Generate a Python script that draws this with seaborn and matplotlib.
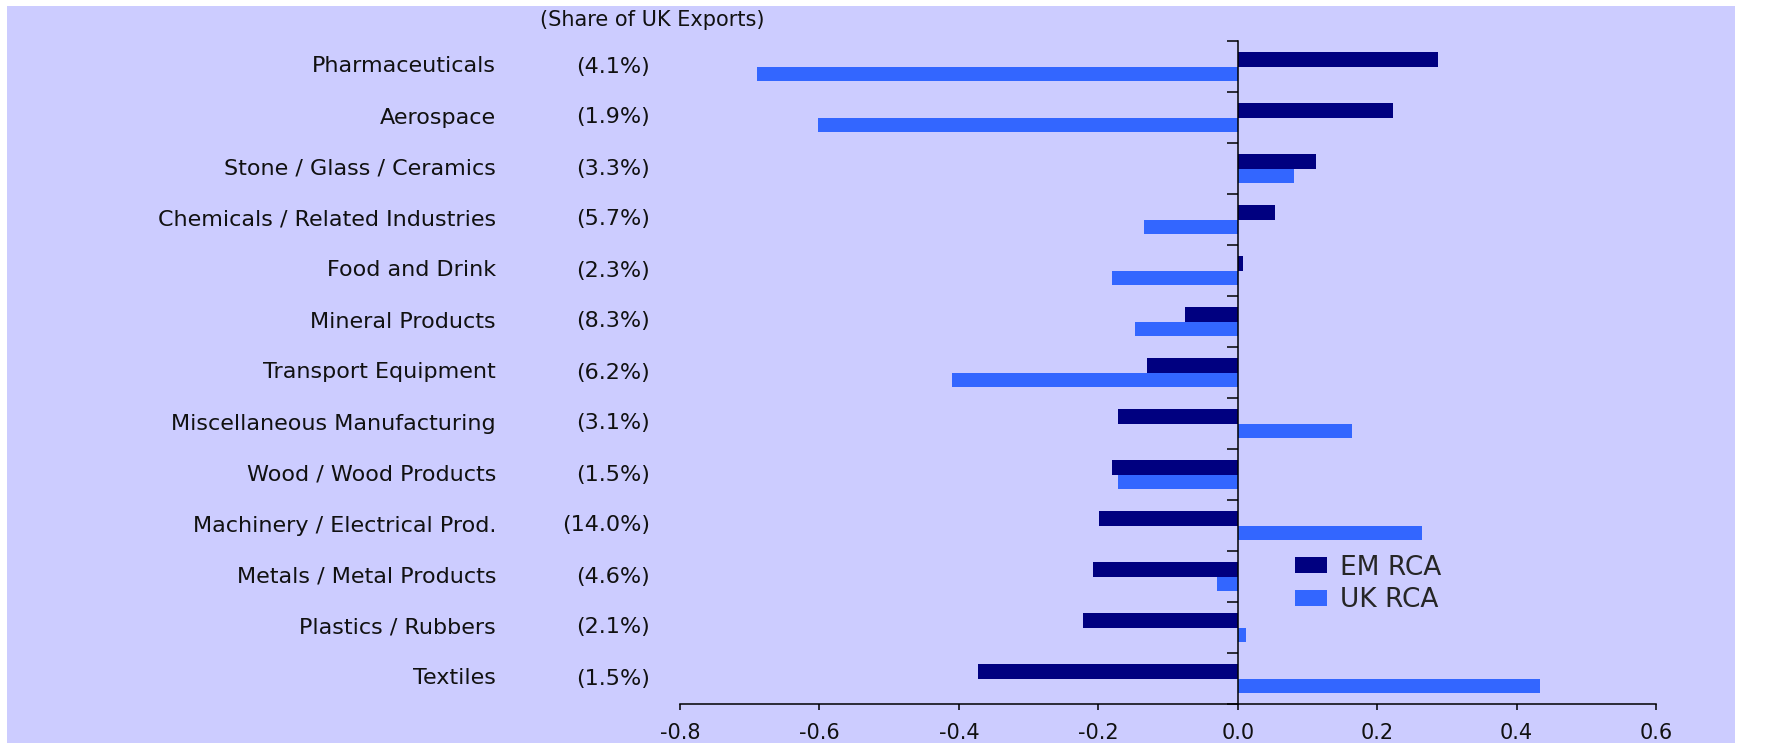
import matplotlib
matplotlib.use("Agg")
import matplotlib.pyplot as plt
import numpy as np
import pandas as pd
import seaborn as sns
from matplotlib import transforms
from matplotlib.patches import Rectangle

# Revealed comparative advantage by sector, with each sector's share of UK exports
categories = [
    "Pharmaceuticals",
    "Aerospace",
    "Stone / Glass / Ceramics",
    "Chemicals / Related Industries",
    "Food and Drink",
    "Mineral Products",
    "Transport Equipment",
    "Miscellaneous Manufacturing",
    "Wood / Wood Products",
    "Machinery / Electrical Prod.",
    "Metals / Metal Products",
    "Plastics / Rubbers",
    "Textiles",
]
shares = ["(4.1%)", "(1.9%)", "(3.3%)", "(5.7%)", "(2.3%)", "(8.3%)", "(6.2%)",
          "(3.1%)", "(1.5%)", "(14.0%)", "(4.6%)", "(2.1%)", "(1.5%)"]
em_rca = [0.287, 0.223, 0.112, 0.053, 0.007, -0.075, -0.130,
          -0.172, -0.180, -0.199, -0.208, -0.222, -0.373]
uk_rca = [-0.689, -0.602, 0.081, -0.135, -0.180, -0.148, -0.410,
          0.164, -0.172, 0.265, -0.030, 0.012, 0.434]
series_names = ["EM RCA", "UK RCA"]
x_ticks = [-0.8, -0.6, -0.4, -0.2, 0.0, 0.2, 0.4, 0.6]
x_tick_labels = ["-0.8", "-0.6", "-0.4", "-0.2", "0.0", "0.2", "0.4", "0.6"]
column_title = "(Share of UK Exports)"

NAVY = "#000080"
BLUE = "#3366FF"
PANEL = "#CCCCFF"
INK = "#111111"

sns.set_theme(style="white")
plt.rcParams["font.family"] = ["DejaVu Sans"]
plt.rcParams["axes.unicode_minus"] = False

df = pd.DataFrame({
    "category": categories * 2,
    "value": em_rca + uk_rca,
    "series": [series_names[0]] * len(categories) + [series_names[1]] * len(categories),
})

W, H = 1767, 743
fig = plt.figure(figsize=(W / 100, H / 100), dpi=100)
fig.patch.set_facecolor("white")
fig.patches.append(Rectangle((7 / W, 0), (1735 - 7) / W, (H - 6) / H,
                             transform=fig.transFigure, facecolor=PANEL,
                             edgecolor="none", zorder=-10))

ax = fig.add_axes([680 / W, 1 - 704 / H, (1656 - 680) / W, (704 - 41) / H])
ax.set_facecolor("none")
ax.set_zorder(2)

sns.barplot(data=df, y="category", x="value", hue="series", order=categories,
            hue_order=series_names, palette=[NAVY, BLUE], width=0.56,
            saturation=1, linewidth=0, orient="h", ax=ax)

ax.set_xlim(-0.8, 0.6)
ax.set_ylim(len(categories) - 0.5, -0.5)
ax.set_xticks(x_ticks)
ax.set_xticklabels(x_tick_labels, fontsize=15, color=INK)
ax.set_xlabel("")
ax.set_ylabel("")

# vertical axis sits on zero, with ticks at the category boundaries
for side in ("top", "right"):
    ax.spines[side].set_visible(False)
ax.spines["left"].set_position(("data", 0))
ax.spines["left"].set_zorder(5)
for side in ("left", "bottom"):
    ax.spines[side].set_color("black")
    ax.spines[side].set_linewidth(1.1)
ax.set_yticks(np.arange(len(categories) + 1) - 0.5)
ax.set_yticklabels([])
ax.tick_params(axis="y", direction="out", length=8, width=1.1, color="black", left=True)
ax.tick_params(axis="x", direction="out", length=4, width=1.1, color="black",
               bottom=True, pad=10)

# sector names and export shares in two right-aligned columns
trans = transforms.blended_transform_factory(fig.transFigure, ax.transData)
for i, (name, share) in enumerate(zip(categories, shares)):
    ax.text(496 / W, i, name, transform=trans, ha="right", va="center",
            fontsize=16, color=INK, clip_on=False)
    ax.text(650 / W, i, share, transform=trans, ha="right", va="center",
            fontsize=16, color=INK, clip_on=False)
fig.text(652 / W, 1 - 20 / H, column_title, ha="center", va="center",
         fontsize=15, color=INK)

ax.legend(loc="center left", bbox_to_anchor=(1295 / W, 1 - 584 / H),
          bbox_transform=fig.transFigure, frameon=False, fontsize=19,
          handlelength=1.2, handleheight=0.55, handletextpad=0.5,
          labelspacing=0.25, borderpad=0, borderaxespad=0, title=None)

fig.savefig("out.png", dpi=100, facecolor=fig.get_facecolor())
